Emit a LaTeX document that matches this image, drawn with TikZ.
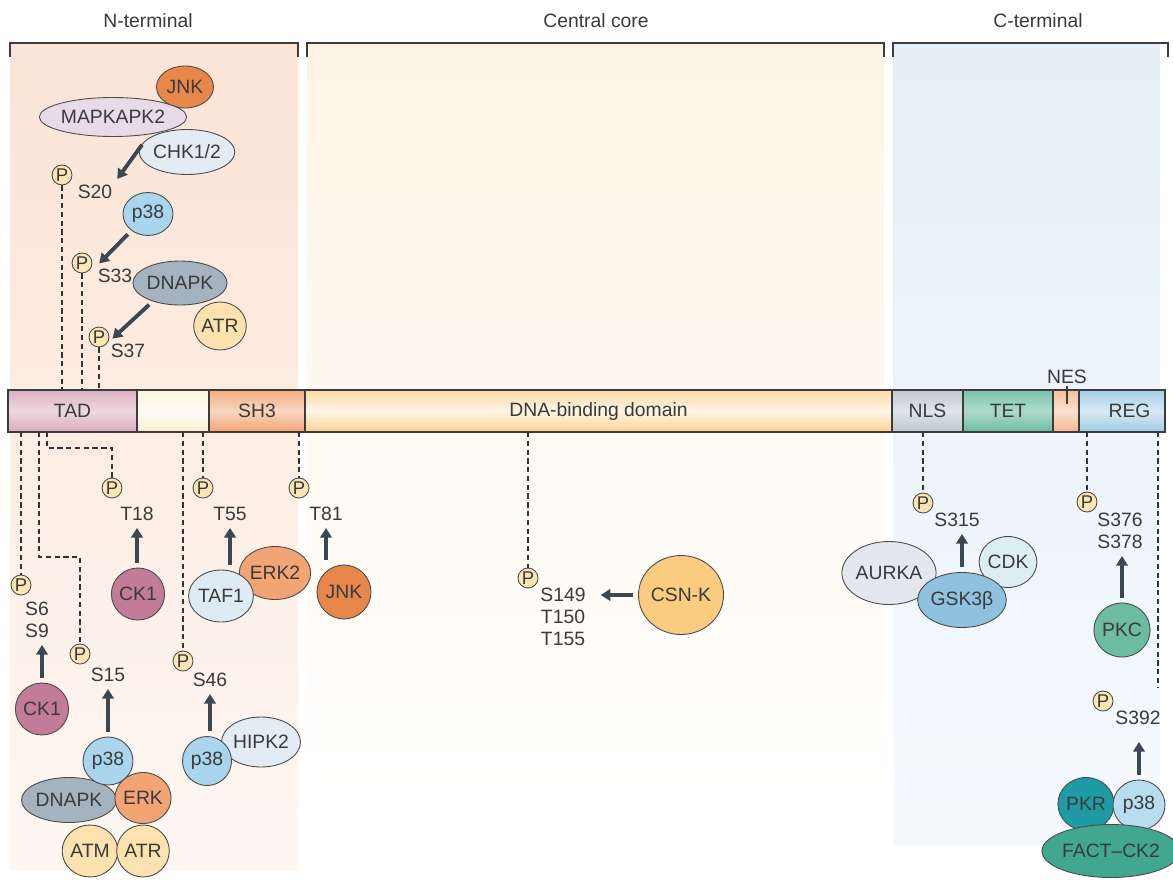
\documentclass[tikz,border=0pt]{standalone}
\usepackage{fontspec}
\setmainfont{Liberation Sans}
\usetikzlibrary{shapes.geometric,arrows.meta,calc}

% colours
\definecolor{txtgray}{HTML}{3A3A3A}
\definecolor{edgegray}{HTML}{4A4A4A}
\definecolor{bargray}{HTML}{3C3C3C}
\definecolor{dashgray}{HTML}{333333}
\definecolor{arrgray}{HTML}{3B4752}
\definecolor{cPhos}{HTML}{FBE6B4}
\definecolor{cNtop}{HTML}{FCE4D6}
\definecolor{cNbot}{HTML}{FEF7F2}
\definecolor{cCtop}{HTML}{FEF4E4}
\definecolor{cBtop}{HTML}{E4EFF8}
\definecolor{cBbot}{HTML}{F6FAFD}
\definecolor{cJnk}{HTML}{E8874A}
\definecolor{cMapk}{HTML}{E8DBE7}
\definecolor{cChk}{HTML}{E3ECF3}
\definecolor{cP38}{HTML}{A9D5EF}
\definecolor{cDnapk}{HTML}{A4B3BF}
\definecolor{cAtr}{HTML}{FBE2AE}
\definecolor{cCk1}{HTML}{C37C97}
\definecolor{cTaf}{HTML}{DCEBF4}
\definecolor{cErk}{HTML}{F2A474}
\definecolor{cHipk}{HTML}{E2ECF4}
\definecolor{cCsn}{HTML}{FBCB80}
\definecolor{cAurk}{HTML}{E4E8EE}
\definecolor{cGsk}{HTML}{8EC2DF}
\definecolor{cCdk}{HTML}{DCEEF2}
\definecolor{cPkc}{HTML}{6CBCA2}
\definecolor{cPkr}{HTML}{1E9BA5}
\definecolor{cP38r}{HTML}{B9DDEE}
\definecolor{cFact}{HTML}{41A78E}

\tikzset{
  enz/.style={ellipse, draw=edgegray, line width=0.5pt, inner sep=0pt},
  phos/.style={circle, draw=edgegray, fill=cPhos, line width=0.5pt, inner sep=0pt,
    minimum size=0.4cm, font=\fontsize{10.5}{10.5}\selectfont},
  site/.style={inner sep=1pt, align=center, font=\fontsize{11}{12.5}\selectfont},
  dline/.style={dash pattern=on 3pt off 2pt, draw=dashgray, line width=0.6pt},
  kin/.style={-{Triangle[length=5.5pt,width=6.5pt]}, line width=2.2pt, draw=arrgray,
    shorten <=0.1cm, shorten >=0.1cm},
  seg/.style={draw=bargray, line width=0.7pt, minimum height=0.84cm, inner sep=0pt, outer sep=0pt},
  brak/.style={draw=bargray, line width=0.8pt},
}

\begin{document}
\begin{tikzpicture}[x=0.02cm, y=-0.02cm, font=\fontsize{11}{13}\selectfont, text=txtgray]
    \useasboundingbox (0,0) rectangle (1173,879);
    \fill[white] (0,0) rectangle (1173,879);

    % Draw the shaded regions and brackets
    \shade[top color=cNtop, bottom color=cNbot] (10,43) rectangle (298,870);
    \shade[top color=cCtop, bottom color=white] (307,43) rectangle (884,800);
    \shade[top color=cBtop, bottom color=cBbot] (893,43) rectangle (1160,845);
    \draw[brak] (10,57) |- (298,43) -- (298,57);
    \draw[brak] (307,57) |- (884,43) -- (884,57);
    \draw[brak] (893,57) |- (1168,43) -- (1168,57);
    \node (nlab) at (148,21) {N-terminal};
    \node (clab) at (596,21) {Central core};
    \node (rlab) at (1038,21) {C-terminal};

    % Draw the domain bar
    \node[seg, minimum width=2.58cm, top color=cCk1!60, bottom color=cCk1!65, middle color=cCk1!30] (tad) at (72.5,411) {TAD};
    \node[seg, minimum width=1.44cm, top color=cAtr!40, bottom color=cAtr!60, middle color=cAtr!10] (blank) at (173,411) {};
    \node[seg, minimum width=1.92cm, top color=cErk!90, bottom color=cErk, middle color=cErk!45] (sh3) at (257,411) {SH3};
    \node[seg, minimum width=11.74cm, top color=cCsn!70, bottom color=cCsn!85, middle color=cCsn!20] (dbd) at (598.5,411) {DNA-binding domain};
    \node[seg, minimum width=1.42cm, top color=cDnapk!70, bottom color=cDnapk!75, middle color=cDnapk!35] (nls) at (927.5,411) {NLS};
    \node[seg, minimum width=1.8cm, top color=cPkc!90, bottom color=cPkc, middle color=cPkc!55] (tet) at (1008,411) {TET};
    \node[seg, minimum width=0.52cm, top color=cErk!70, bottom color=cErk!80, middle color=cErk!35] (nesseg) at (1066,411) {};
    \node[seg, minimum width=1.72cm, top color=cGsk!80, bottom color=cGsk!85, middle color=cGsk!35] (reg) at (1122,411) {\hspace{0.3cm}REG};
    \node[site] (neslab) at (1067,377) {NES};
    \draw[brak] (neslab.south) -- ++(0,18);

    % N-terminal sites above the bar
    \node[enz, fill=cJnk, minimum width=1.14cm, minimum height=0.84cm] (jnka) at (185,87) {JNK};
    \node[enz, fill=cMapk, minimum width=2.54cm, minimum height=0.78cm] (mapk) at (113,117) {MAPKAPK2};
    \node[enz, fill=cChk, minimum width=1.72cm, minimum height=0.9cm] (chk) at (187,152) {CHK1/2};
    \node[phos] (p20) at (62,175) {P};
    \node[site] (s20) at (95,192) {S20};
    \node[enz, fill=cP38, minimum width=1.0cm, minimum height=0.86cm] (p38a) at (148,214) {p38};
    \node[phos] (p33) at (82,263) {P};
    \node[site] (s33) at (115,276) {S33};
    \node[enz, fill=cDnapk, minimum width=1.88cm, minimum height=0.88cm] (dnapka) at (180,283) {DNAPK};
    \node[enz, fill=cAtr, minimum width=0.98cm, minimum height=0.96cm] (atra) at (220,326) {ATR};
    \node[phos] (p37) at (99,337) {P};
    \node[site] (s37) at (128,351) {S37};

    \draw[kin] (chk.165) -- (s20.north east);
    \draw[kin] (p38a.225) -- (s33.north west);
    \draw[kin] (dnapka.214) -- (s37.north west);
    \draw[dline] (p20) -- (p20 |- tad.north);
    \draw[dline] (p33) -- (p33 |- tad.north);
    \draw[dline] (p37) -- (p37 |- tad.north);

    % N-terminal sites below the bar
    \node[phos] (p6) at (21,585) {P};
    \node[site] (s6) at (37,620) {S6\\S9};
    \draw[dline] (p6 |- tad.south) -- (p6);
    \node[enz, fill=cCk1, minimum size=1.04cm] (ck1b) at (42,709) {CK1};
    \draw[kin] (ck1b.north) -- (ck1b.north |- s6.south);

    \node[phos] (p15) at (80,654) {P};
    \node[site] (s15) at (108,675) {S15};
    \coordinate (k15) at (39,557);
    \draw[dline] (k15 |- tad.south) -- (k15) -| (p15);
    \node[enz, fill=cDnapk, minimum width=1.9cm, minimum height=0.9cm] (dnapkb) at (69,800) {DNAPK};
    \node[enz, fill=cP38, minimum width=1.0cm, minimum height=0.96cm] (p38b) at (108,761) {p38};
    \node[enz, fill=cErk, minimum width=1.04cm, minimum height=1.02cm] (erk) at (143,798) {ERK};
    \node[enz, fill=cAtr, minimum size=1.04cm] (atm) at (90,851) {ATM};
    \node[enz, fill=cAtr, minimum size=1.04cm] (atrb) at (143,851) {ATR};
    \draw[kin] (s15.south |- p38b.north) -- (s15.south);

    \node[phos] (p18) at (112,488) {P};
    \node[site] (t18) at (137,514) {T18};
    \coordinate (k18) at (47,448);
    \draw[dline] (k18 |- tad.south) -- (k18) -| (p18);
    \node[enz, fill=cCk1, minimum size=1.04cm] (ck1a) at (138,594) {CK1};
    \draw[kin] (t18.south |- ck1a.north) -- (t18.south);

    \node[phos] (p46) at (183,661) {P};
    \node[site] (s46) at (210,680) {S46};
    \draw[dline] (p46 |- blank.south) -- (p46);
    \node[enz, fill=cHipk, minimum width=1.4cm, minimum height=1.0cm] (hipk) at (261,742) {HIPK2};
    \node[enz, fill=cP38, minimum size=0.98cm] (p38c) at (207,761) {p38};
    \draw[kin] (s46.south |- p38c.north) -- (s46.south);

    \node[phos] (p55) at (203,488) {P};
    \node[site] (t55) at (230,514) {T55};
    \draw[dline] (p55 |- blank.south) -- (p55);
    \node[enz, fill=cErk, minimum width=1.28cm, minimum height=1.06cm] (erk2) at (275,573) {ERK2};
    \node[enz, fill=cTaf, minimum width=1.14cm, minimum height=1.04cm] (taf) at (221,596) {TAF1};
    \draw[kin] (t55.south |- taf.north) -- (t55.south);

    \node[phos] (p81) at (299,488) {P};
    \node[site] (t81) at (326,514) {T81};
    \draw[dline] (p81 |- sh3.south) -- (p81);
    \node[enz, fill=cJnk, minimum size=1.08cm] (jnkb) at (344,592) {JNK};
    \draw[kin] (t81.south |- jnkb.north) -- (t81.south);

    % Central core site
    \node[phos] (p149) at (528,578) {P};
    \node[site] (s149) at (563,617) {S149\\T150\\T155};
    \draw[dline] (p149 |- dbd.south) -- (p149);
    \node[enz, fill=cCsn, minimum size=1.58cm] (csnk) at (681,595) {CSN-K};
    \draw[kin, shorten >=0.26cm] (csnk.west) -- (csnk.west -| s149.east);

    % C-terminal sites
    \node[phos] (p315) at (923,503) {P};
    \node[site] (s315) at (957,520) {S315};
    \draw[dline] (p315 |- nls.south) -- (p315);
    \node[enz, fill=cAurk, minimum width=1.72cm, minimum height=1.26cm] (aurka) at (889,573) {AURKA};
    \node[enz, fill=cCdk, minimum width=1.1cm, minimum height=1.02cm] (cdk) at (1008,562) {CDK};
    \node[enz, fill=cGsk, minimum width=1.76cm, minimum height=1.1cm] (gsk) at (962,600) {GSK3β};
    \draw[kin] (gsk.north) -- (gsk.north |- s315.south);

    \node[phos] (p376) at (1087,502) {P};
    \node[site] (s376) at (1120,531) {S376\\S378};
    \draw[dline] (p376 |- reg.south) -- (p376);
    \node[enz, fill=cPkc, minimum width=1.06cm, minimum height=1.08cm] (pkc) at (1122,630) {PKC};
    \draw[kin] (pkc.north) -- (pkc.north |- s376.south);

    \node[phos] (p392) at (1103,701) {P};
    \node[site] (s392) at (1138,718) {S392};
    \coordinate (k392) at (1158,688);
    \draw[dline] (k392 |- reg.south) -- (k392);
    \node[enz, fill=cPkr, minimum size=1.06cm] (pkr) at (1086,804) {PKR};
    \node[enz, fill=cP38r, minimum width=1.04cm, minimum height=1.0cm] (p38d) at (1139,805) {p38};
    \node[enz, fill=cFact, minimum width=2.24cm, minimum height=1.06cm] (fact) at (1111,851) {FACT–CK2};
    \draw[kin, shorten >=0.3cm] (p38d.north) -- (p38d.north |- s392.south);
\end{tikzpicture}
\end{document}
